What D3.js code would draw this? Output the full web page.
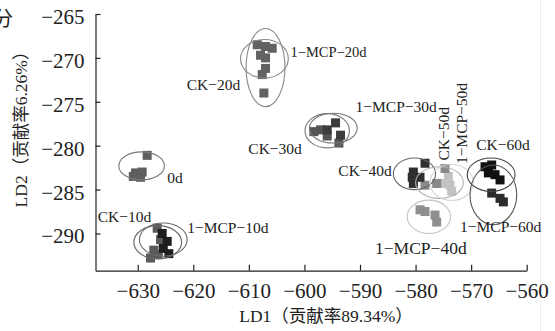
<!DOCTYPE html>
<html><head><meta charset="utf-8">
<script src="https://cdn.jsdelivr.net/npm/d3@7"></script>
<style>body{margin:0;background:#fff}svg{display:block}</style>
</head><body><svg id="c" width="555" height="331"></svg>
<script>
// ---- data ----
const xTicks = [-630,-620,-610,-600,-590,-580,-570,-560];
const yTicks = [-265,-270,-275,-280,-285,-290];
const groups = ["0d","CK-10d","1-MCP-10d","CK-20d","1-MCP-20d","CK-30d","1-MCP-30d","CK-40d","1-MCP-40d","CK-50d","1-MCP-50d","CK-60d","1-MCP-60d"];
const pointGroup = [
  "0d","0d","0d","0d","0d",
  "CK-10d","CK-10d","CK-10d","CK-10d","CK-10d",
  "1-MCP-10d","1-MCP-10d","1-MCP-10d","1-MCP-10d",
  "1-MCP-20d","1-MCP-20d","1-MCP-20d","1-MCP-20d","1-MCP-20d",
  "CK-20d","CK-20d","CK-20d",
  "CK-30d","CK-30d","CK-30d","CK-30d",
  "1-MCP-30d","1-MCP-30d","1-MCP-30d",
  "1-MCP-50d","1-MCP-50d","1-MCP-50d","1-MCP-50d",
  "CK-50d","CK-50d","CK-50d",
  "CK-40d","CK-40d","CK-40d","CK-40d","CK-40d",
  "1-MCP-40d","1-MCP-40d","1-MCP-40d","1-MCP-40d",
  "CK-60d","CK-60d","CK-60d","CK-60d","CK-60d",
  "1-MCP-60d","1-MCP-60d","1-MCP-60d"
];
const pointX = [
  -628.3,-630.4,-629.2,-629.5,-630.8,
  -626.5,-625.9,-627.1,-627.7,-626.3,
  -625.6,-624.7,-624.4,-625.4,
  -608.5,-607.0,-605.8,-607.9,-607.0,
  -607.0,-607.6,-607.3,
  -598.3,-597.1,-595.9,-593.8,
  -595.9,-594.4,-593.5,
  -574.1,-573.8,-573.5,-575.3,
  -578.3,-576.2,-574.7,
  -578.3,-580.4,-580.6,-579.2,-580.4,
  -579.2,-578.3,-576.5,-576.2,
  -567.5,-566.3,-565.7,-564.8,-566.9,
  -566.3,-564.8,-564.2
];
const pointY = [
  -281.1,-283.1,-283.0,-283.6,-283.5,
  -289.4,-290.7,-291.9,-292.8,-292.4,
  -290.0,-290.9,-292.3,-291.7,
  -268.5,-268.7,-268.9,-269.7,-270.0,
  -271.2,-271.9,-274.0,
  -278.4,-278.2,-278.9,-279.7,
  -278.2,-277.4,-278.8,
  -283.5,-284.5,-285.2,-284.3,
  -284.5,-284.3,-282.6,
  -282.0,-283.0,-283.6,-283.6,-284.3,
  -287.3,-287.5,-287.9,-288.7,
  -282.4,-282.2,-283.3,-283.9,-283.1,
  -285.4,-286.0,-286.4
];
// confidence ellipses (data units)
const ellGroup = ["0d","CK-10d","1-MCP-10d","CK-20d","1-MCP-20d","CK-30d","1-MCP-30d","CK-40d","1-MCP-40d","CK-50d","1-MCP-50d","CK-60d","1-MCP-60d"];
const ellCX = [-629.3,-626.4,-625.4,-607.0,-607.2,-595.9,-594.8,-580.2,-577.6,-575.7,-573.5,-566.4,-566.0];
const ellCY = [-282.3,-291.0,-290.7,-271.1,-270.1,-278.3,-278.0,-283.2,-288.1,-284.2,-284.2,-283.3,-285.6];
const ellRX = [4.1,4.3,4.3,3.5,4.3,4.0,4.3,3.8,3.9,4.3,3.9,4.3,4.2];
const ellRY = [1.6,1.9,1.9,4.45,2.2,1.95,1.7,1.8,1.9,1.8,2.05,1.9,3.4];
// group labels (anchored in data units)
const labelText = ["1−MCP−20d","CK−20d","1−MCP−30d","CK−30d","CK−40d","0d","CK−10d","1−MCP−10d","CK−60d","1−MCP−60d","1−MCP−40d","CK−50d","1−MCP−50d"];
const labelX = [-602.5,-621.2,-590.8,-610.1,-593.9,-624.7,-637.2,-621.1,-569.1,-572.0,-587.3,-574.0,-570.7];
const labelY = [-269.9,-273.7,-276.2,-280.95,-283.5,-284.2,-288.7,-289.9,-280.5,-289.8,-292.3,-281.7,-282.1];
const labelRot = [0,0,0,0,0,0,0,0,0,0,0,-90,-90];
const labelSize = [14.5,15.5,15.5,15.5,15.5,15.5,15.5,15.5,15.5,15.5,17.5,15.5,15.5];

// ---- styles ----
const fillColor = {"0d":"#5e5e5e","CK-10d":"#5a5a5a","1-MCP-10d":"#1e1e1e","CK-20d":"#626262","1-MCP-20d":"#626262",
  "CK-30d":"#555555","1-MCP-30d":"#3c3c3c","CK-40d":"#2e2e2e","1-MCP-40d":"#8f8f8f","CK-50d":"#8a8a8a",
  "1-MCP-50d":"#c2c2c2","CK-60d":"#111111","1-MCP-60d":"#2c2c2c"};
const strokeColor = {"0d":"#7a7a7a","CK-10d":"#6a6a6a","1-MCP-10d":"#6a6a6a","CK-20d":"#888","1-MCP-20d":"#888",
  "CK-30d":"#777","1-MCP-30d":"#777","CK-40d":"#666","1-MCP-40d":"#c4c4c4","CK-50d":"#b0b0b0",
  "1-MCP-50d":"#d4d4d4","CK-60d":"#444","1-MCP-60d":"#555"};
const serif = "'Liberation Serif','Times New Roman',serif";
const cjk = "'Noto Sans CJK SC',sans-serif";

const svg = d3.select("#c");
svg.append("rect").attr("width",555).attr("height",331).attr("fill","#fff");
svg.append("line").attr("x1",540.5).attr("x2",540.5).attr("y1",0).attr("y2",331).attr("stroke","#ececec");

const x = d3.scaleLinear().domain([-637.6,-560]).range([95.5,526.7]);
const y = d3.scaleLinear().domain([-294.24,-265]).range([270.7,14]);

// points
const pts = pointX.map((v,i)=>({x:v,y:pointY[i],g:pointGroup[i]}));
const S = 9;
svg.append("g").selectAll("rect").data(pts).join("rect")
  .attr("x",d=>x(d.x)-S/2).attr("y",d=>y(d.y)-S/2)
  .attr("width",S).attr("height",S)
  .attr("fill",d=>fillColor[d.g]);

// ellipses
const ells = ellGroup.map((g,i)=>({g,cx:ellCX[i],cy:ellCY[i],rx:ellRX[i],ry:ellRY[i]}));
svg.append("g").selectAll("ellipse").data(ells).join("ellipse")
  .attr("cx",d=>x(d.cx)).attr("cy",d=>y(d.cy))
  .attr("rx",d=>x(d.cx+d.rx)-x(d.cx)).attr("ry",d=>y(d.cy)-y(d.cy+d.ry))
  .attr("fill","none").attr("stroke",d=>strokeColor[d.g]).attr("stroke-width",1.1);

// axes
const xAxis = d3.axisBottom(x).tickValues(xTicks).tickSize(-6).tickSizeOuter(0).tickPadding(12)
  .tickFormat(d=>String(d).replace("-","−"));
const gx = svg.append("g").attr("transform","translate(0,270.7)").call(xAxis);
const yAxis = d3.axisLeft(y).tickValues(yTicks).tickSize(-5).tickSizeOuter(0).tickPadding(11)
  .tickFormat(d=>String(d).replace("-","−"));
const gy = svg.append("g").attr("transform","translate(95.5,0)").call(yAxis);
[gx,gy].forEach(g=>{
  g.selectAll("path,line").attr("stroke","#222").attr("stroke-width",1.2);
  g.selectAll("text").attr("font-family",serif).attr("font-size",21).attr("fill","#222");
});
gy.selectAll("text").attr("dy","0.45em");

// group labels
const labs = labelText.map((t,i)=>({t,x:labelX[i],y:labelY[i],r:labelRot[i],s:labelSize[i]}));
svg.append("g").selectAll("text").data(labs).join("text")
  .attr("transform",d=>`translate(${x(d.x)},${y(d.y)}) rotate(${d.r})`)
  .attr("font-family",serif).attr("font-size",d=>d.s).attr("fill","#222")
  .text(d=>d.t);

// axis titles (serif for latin/digits, CJK font for Chinese)
function title(sel, parts){
  parts.forEach(p=>sel.append("tspan").attr("font-family",p[1]?cjk:serif).text(p[0]));
}
const tx = svg.append("text").attr("x",326).attr("y",322).attr("text-anchor","middle")
  .attr("font-size",17.5).attr("fill","#222");
title(tx, [["LD1",0],["（贡献率",1],["89.34%",0],["）",1]]);
const ty = svg.append("text").attr("transform","translate(27,125) rotate(-90)").attr("text-anchor","middle")
  .attr("font-size",17.5).attr("fill","#222");
title(ty, [["LD2",0],["（贡献率",1],["6.26%",0],["）",1]]);
svg.append("text").attr("x",-7).attr("y",26)
  .attr("font-family",cjk).attr("font-size",20).attr("fill","#222").text("分");
</script></body></html>
